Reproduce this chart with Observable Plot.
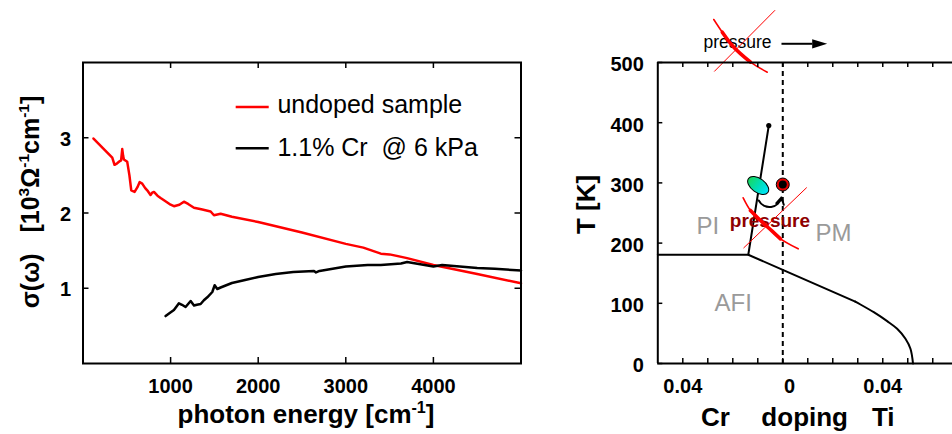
<!DOCTYPE html>
<html><head><meta charset="utf-8">
<script src="https://cdn.jsdelivr.net/npm/d3@7"></script>
<script src="https://cdn.jsdelivr.net/npm/@observablehq/plot@0.6"></script>
<style>
body{margin:0;background:#fff;}
#wrap{position:relative;width:952px;height:434px;overflow:hidden;background:#fff;}
#wrap svg{position:absolute;top:0;}
#wrap text{white-space:pre;}
</style></head><body><div id="wrap"></div>
<script>
// ---------- data: left panel ----------
const undopedEnergy = [120, 334, 360, 390, 421, 435, 448, 458, 467, 505, 530, 551, 589, 620, 646, 676, 710, 741, 771, 790, 810, 850, 886, 950, 1000, 1038, 1100, 1152, 1200, 1267, 1350, 1457, 1495, 1571, 1700, 2000, 2500, 3000, 3200, 3300, 3400, 3500, 3700, 4000, 4500, 5000];
const undopedSigma  = [2.99, 2.735, 2.64, 2.66, 2.69, 2.70, 2.85, 2.76, 2.71, 2.68, 2.50, 2.30, 2.28, 2.34, 2.41, 2.39, 2.33, 2.29, 2.24, 2.27, 2.28, 2.23, 2.20, 2.15, 2.11, 2.09, 2.11, 2.15, 2.12, 2.07, 2.05, 2.02, 1.97, 1.99, 1.95, 1.88, 1.74, 1.59, 1.54, 1.50, 1.46, 1.45, 1.40, 1.31, 1.19, 1.066];
const crEnergy = [943, 990, 1038, 1070, 1095, 1130, 1171, 1200, 1229, 1267, 1300, 1343, 1380, 1419, 1476, 1503, 1533, 1571, 1700, 1850, 2000, 2200, 2400, 2637, 2660, 2700, 2850, 3000, 3250, 3400, 3630, 3700, 3850, 4000, 4100, 4300, 4500, 4700, 5000];
const crSigma  = [0.63, 0.67, 0.71, 0.76, 0.80, 0.78, 0.75, 0.79, 0.83, 0.77, 0.78, 0.79, 0.84, 0.88, 0.95, 1.04, 0.99, 1.01, 1.07, 1.11, 1.15, 1.19, 1.215, 1.23, 1.21, 1.23, 1.26, 1.29, 1.31, 1.31, 1.33, 1.35, 1.32, 1.29, 1.31, 1.29, 1.27, 1.26, 1.235];
const energyTicks = [1000, 2000, 3000, 4000];
const sigmaTicks = [1, 2, 3];
const legendLabels = ["undoped sample", "1.1% Cr  @ 6 kPa"];
const legendColors = ["#ff0000", "#000000"];
const leftXTitle = "photon energy [cm^{-1}]";
const leftYTitle = "σ(ω)   [10^{3}Ω^{-1}cm^{-1}]";

// ---------- data: right panel (phase diagram) ----------
const dopingTicks = [-0.04, -0.03, -0.02, -0.01, 0, 0.01, 0.02, 0.03, 0.04, 0.05, 0.06];
const dopingLabelTicks = [-0.04, 0.04];
const zeroTick = [0];
const tempTicks = [0, 100, 200, 300, 400, 500];
const afiDoping = [-0.05, -0.0138, 0, 0.0290];
const afiTemp   = [180.7, 180.7, 155.6, 102.8];
const afiTailDoping = [0.0290, 0.03108, 0.0364, 0.04176, 0.04576, 0.04908, 0.05108, 0.0521];
const afiTailTemp   = [102.8, 98.0, 85.2, 70.3, 57.6, 41.0, 24.4, 0];
const firstOrderDoping = [-0.0138, -0.0056];
const firstOrderTemp   = [180.7, 395.3];
const crSample = [{doping: -0.00984, T: 295.7}];
const tiSample = [{doping: 0, T: 297.3}];
const phaseLabels = [
  {text: "PI", doping: -0.03452, T: 215.4},
  {text: "PM", doping: 0.01308, T: 203.2},
  {text: "AFI", doping: -0.02732, T: 88.0}
];
const pressureLabel = [{text: "pressure", doping: -0.0212, T: 226.4}];
const topPressureLabel = [{text: "pressure", doping: -0.03172, T: 523.3}];
const rightXTitle = [
  {text: "Cr", doping: -0.02692},
  {text: "doping", doping: 0.00876},
  {text: "Ti", doping: 0.0402}
];
const rightYTitle = "T [K]";
// red "crossed out" strokes
const crossTopThickD = [-0.0276, -0.0242, -0.0196, -0.0129, -0.0062];
const crossTopThickT = [571.4, 550.3, 525.4, 500.5, 483.9];
const crossTopThinD = [-0.0273, -0.0032];
const crossTopThinT = [485.5, 586.4];
const crossMidThickD = [-0.01584, -0.01292, -0.00892, -0.00424, -0.00092, 0.00616];
const crossMidThickT = [275.2, 254.2, 237.5, 219.8, 207.1, 190.5];
const crossMidThinD = [-0.0156, 0.00948];
const crossMidThinT = [192.2, 291.9];
const pressureArrow = [{d1: -0.00052, d2: 0.0118, head: 0.01476, T: 531.1}];
const pathArrow = [{d1: -0.0096, T1: 270.8, d2: -0.00052, T2: 275.7}];

// ---------- helpers ----------
const font = "'Liberation Sans', Arial, Helvetica, sans-serif";
const zip = (xs, ys) => xs.map((x, i) => ({x, y: ys[i]}));
function supify(svg) {
  svg.querySelectorAll("text").forEach(t => {
    const s = t.textContent;
    if (!s.includes("^{")) return;
    t.textContent = "";
    const ns = "http://www.w3.org/2000/svg";
    const re = /\^\{([^}]*)\}/g;
    let last = 0, m, pending = false;
    const add = (txt, sup) => {
      if (!txt) return;
      const ts = document.createElementNS(ns, "tspan");
      ts.textContent = txt;
      if (sup) { ts.setAttribute("font-size", "62%"); ts.setAttribute("dy", "-0.62em"); pending = true; }
      else if (pending) { ts.setAttribute("dy", "0.385em"); pending = false; }
      t.appendChild(ts);
    };
    while ((m = re.exec(s))) { add(s.slice(last, m.index), false); add(m[1], true); last = re.lastIndex; }
    add(s.slice(last), false);
  });
}
const ellipseSymbol = {draw(ctx, size) {
  const r = Math.sqrt(size / Math.PI), a = r, b = r * 0.58, k = 0.5523;
  ctx.moveTo(a, 0);
  ctx.bezierCurveTo(a, b * k, a * k, b, 0, b);
  ctx.bezierCurveTo(-a * k, b, -a, b * k, -a, 0);
  ctx.bezierCurveTo(-a, -b * k, -a * k, -b, 0, -b);
  ctx.bezierCurveTo(a * k, -b, a, -b * k, a, 0);
  ctx.closePath();
}};
const headSymbol = {draw(ctx, size) {
  const r = Math.sqrt(size / Math.PI);
  ctx.moveTo(r, 0); ctx.lineTo(-r, -0.62 * r); ctx.lineTo(-r, 0.62 * r); ctx.closePath();
}};
const plain = d => String(d);

// ---------- left panel ----------
const LW = 540, LML = 82.5, LMR = 19.5, MT = 62, MB = 71, H = 434;
const innerH = H - MT - MB, leftInnerW = LW - LML - LMR;
const undoped = zip(undopedEnergy, undopedSigma);
const cr = zip(crEnergy, crSigma);
const legend = legendLabels.map((label, i) => ({label, color: legendColors[i], lineY: [3.41, 2.86][i], textY: [3.327, 2.757][i]}));

const left = Plot.plot({
  width: LW, height: H,
  marginLeft: LML, marginRight: LMR, marginTop: MT, marginBottom: MB,
  style: {fontFamily: font, background: "transparent", overflow: "visible", color: "black"},
  x: {domain: [0, 5000]},
  y: {domain: [0, 4]},
  marks: [
    Plot.line(undoped, {x: "x", y: "y", stroke: legendColors[0], strokeWidth: 2.5}),
    Plot.line(cr, {x: "x", y: "y", stroke: legendColors[1], strokeWidth: 2.5}),
    Plot.link(legend, {x1: () => 1743, x2: () => 2120, y1: "lineY", y2: "lineY", stroke: "color", strokeWidth: 2.5}),
    Plot.text(legend, {x: () => 2219, y: "textY", text: "label", textAnchor: "start", lineAnchor: "bottom", fontSize: 25}),
    Plot.frame({stroke: "black", strokeWidth: 2}),
    Plot.tickX(energyTicks, {x: d => d, insetTop: innerH - 6, strokeWidth: 1.5}),
    Plot.tickX(energyTicks, {x: d => d, insetBottom: innerH - 6, strokeWidth: 1.5}),
    Plot.tickY(sigmaTicks, {y: d => d, insetRight: leftInnerW - 6, strokeWidth: 1.5}),
    Plot.tickY(sigmaTicks, {y: d => d, insetLeft: leftInnerW - 6, strokeWidth: 1.5}),
    Plot.axisX(energyTicks, {tickSize: 0, tickPadding: 15, fontSize: 20, fontWeight: "bold", label: null, tickFormat: plain}),
    Plot.axisY(sigmaTicks, {tickSize: 0, tickPadding: 12, fontSize: 20, fontWeight: "bold", label: null, dy: 1.5, tickFormat: plain}),
    Plot.text([leftXTitle], {text: d => d, frameAnchor: "bottom", textAnchor: "middle", dx: 4, dy: 59.3, lineAnchor: "bottom", fontSize: 26, fontWeight: "bold"}),
    Plot.text([leftYTitle], {text: d => d, frameAnchor: "left", textAnchor: "middle", rotate: -90, dx: -44.5, dy: -11, lineAnchor: "bottom", fontSize: 25, fontWeight: "bold"})
  ]
});
left.style.left = "0px";

// ---------- right panel ----------
const RW = 392, RML = 97.3;
const rightInnerW = RW - RML;
const afi = zip(afiDoping, afiTemp);
const afiTail = zip(afiTailDoping, afiTailTemp);
const firstOrder = zip(firstOrderDoping, firstOrderTemp);
const red = "#ff0000";
const gradientDefs = () => {
  const defs = document.createElementNS("http://www.w3.org/2000/svg", "defs");
  defs.innerHTML = '<linearGradient id="ellGrad" x1="0" y1="0" x2="1" y2="0"><stop offset="0" stop-color="#1ad85a"/><stop offset="0.5" stop-color="#00dcb4"/><stop offset="1" stop-color="#00e6ff"/></linearGradient>';
  return defs;
};

const right = Plot.plot({
  width: RW, height: H,
  marginLeft: RML, marginRight: 0, marginTop: MT, marginBottom: MB,
  style: {fontFamily: font, background: "transparent", overflow: "visible", color: "black"},
  x: {domain: [-0.05, 0.0679]},
  y: {domain: [0, 500]},
  marks: [
    gradientDefs,
    Plot.ruleX(zeroTick, {x: d => d, strokeDasharray: "5,4", strokeWidth: 2}),
    Plot.line(afi, {x: "x", y: "y", strokeWidth: 2}),
    Plot.line(afiTail, {x: "x", y: "y", strokeWidth: 2, curve: "catmull-rom"}),
    Plot.line(firstOrder, {x: "x", y: "y", strokeWidth: 2}),
    Plot.dot([firstOrder[1]], {x: "x", y: "y", r: 2.6, fill: "black"}),
    Plot.text(phaseLabels, {x: "doping", y: "T", text: "text", textAnchor: "start", lineAnchor: "bottom", fontSize: 24, fill: "#9a9a9a"}),
    Plot.dot(crSample, {x: "doping", y: "T", symbol: ellipseSymbol, r: 12, rotate: 36, fill: "url(#ellGrad)", stroke: "black", strokeWidth: 1}),
    Plot.dot(tiSample, {x: "doping", y: "T", r: 6.5, fill: "#e80000", stroke: "black", strokeWidth: 1}),
    Plot.dot(tiSample, {x: "doping", y: "T", r: 4, fill: "black"}),
    Plot.arrow(pathArrow, {x1: "d1", y1: "T1", x2: "d2", y2: "T2", bend: -70, headLength: 6, strokeWidth: 2}),
    Plot.text(pressureLabel, {x: "doping", y: "T", text: "text", textAnchor: "start", lineAnchor: "bottom", fontSize: 19, fontWeight: "bold", fill: "#8e0000"}),
    Plot.text(topPressureLabel, {x: "doping", y: "T", text: "text", textAnchor: "start", lineAnchor: "bottom", fontSize: 17.5, fill: "black"}),
    Plot.link(pressureArrow, {x1: "d1", x2: "d2", y1: "T", y2: "T", strokeWidth: 2}),
    Plot.dot(pressureArrow, {x: "head", y: "T", symbol: headSymbol, r: 7.5, fill: "black"}),
    Plot.line(zip(crossTopThickD, crossTopThickT), {x: "x", y: "y", stroke: red, strokeWidth: 1.6, curve: "catmull-rom"}),
    Plot.line(zip(crossTopThickD, crossTopThickT).slice(1, 4), {x: "x", y: "y", stroke: red, strokeWidth: 3.6, curve: "catmull-rom"}),
    Plot.line(zip(crossTopThinD, crossTopThinT), {x: "x", y: "y", stroke: red, strokeWidth: 1}),
    Plot.line(zip(crossMidThickD, crossMidThickT), {x: "x", y: "y", stroke: red, strokeWidth: 1.6, curve: "catmull-rom"}),
    Plot.line(zip(crossMidThickD, crossMidThickT).slice(1, 5), {x: "x", y: "y", stroke: red, strokeWidth: 3.6, curve: "catmull-rom"}),
    Plot.line(zip(crossMidThinD, crossMidThinT), {x: "x", y: "y", stroke: red, strokeWidth: 1}),
    Plot.ruleY([0, 500], {y: d => d, strokeWidth: 2}),
    Plot.ruleX([-0.05], {x: d => d, strokeWidth: 2}),
    Plot.tickX(dopingTicks, {x: d => d, insetTop: innerH - 5, strokeWidth: 1.5}),
    Plot.tickX(dopingTicks, {x: d => d, insetBottom: innerH - 5, strokeWidth: 1.5}),
    Plot.tickY(tempTicks, {y: d => d, insetRight: rightInnerW - 5, strokeWidth: 1.5}),
    Plot.axisX(dopingLabelTicks, {tickSize: 0, tickPadding: 15, fontSize: 20, fontWeight: "bold", label: null, tickFormat: d => String(Math.abs(d))}),
    Plot.axisX(zeroTick, {tickSize: 0, tickPadding: 15, fontSize: 20, fontWeight: "bold", label: null, dx: 6.7, tickFormat: plain}),
    Plot.axisY(tempTicks, {tickSize: 0, tickPadding: 14, fontSize: 20, fontWeight: "bold", label: null, dy: 2.5, tickFormat: plain}),
    Plot.text(rightXTitle, {x: "doping", text: "text", frameAnchor: "bottom", textAnchor: "middle", dy: 62, lineAnchor: "bottom", fontSize: 26, fontWeight: "bold"}),
    Plot.text([rightYTitle], {text: d => d, frameAnchor: "left", textAnchor: "middle", rotate: -90, dx: -(RML - 34), dy: -8.5, lineAnchor: "bottom", fontSize: 26, fontWeight: "bold"})
  ]
});
right.style.left = "560px";

const wrap = document.getElementById("wrap");
wrap.appendChild(left);
wrap.appendChild(right);
supify(left);
supify(right);
</script>
</body></html>
